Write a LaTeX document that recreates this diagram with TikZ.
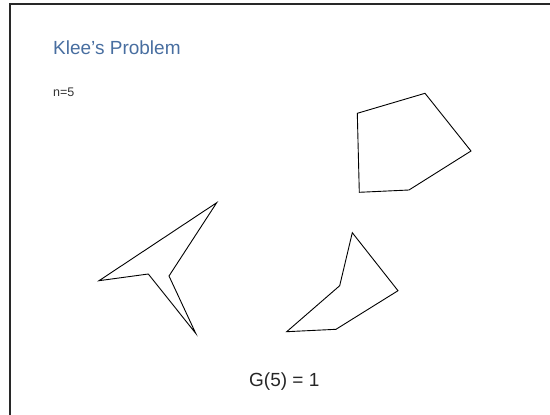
\documentclass[tikz,border=0pt]{standalone}
\usepackage{fontspec}
\setmainfont{Liberation Sans}
\definecolor{titleblue}{RGB}{72,110,160}
\definecolor{framegray}{RGB}{40,40,40}
\begin{document}
\begin{tikzpicture}[x=1pt,y=-1pt,
  polyline/.style={draw=black,line width=0.9pt,line join=miter},
  framel/.style={draw=framegray,line width=1.4pt}]
\useasboundingbox (0,0) rectangle (550,415);
\coordinate (ftl) at (10,4);
\coordinate (ftr) at (550,4);
\coordinate (fbl) at (10,415);
\draw[framel] (ftr) -- (ftl) -- (fbl);
\node[anchor=base west,inner sep=0pt,text=titleblue,font=\fontsize{19}{21}\selectfont] (title) at (53,54.5) {Klee’s Problem};
\node[anchor=base west,inner sep=0pt,text=black!80,font=\fontsize{12.5}{14}\selectfont] (n) at (53,96.7) {n=5};
\node[anchor=base west,inner sep=0pt,text=black!85,font=\fontsize{19}{21}\selectfont] (g) at (249,386.7) {G(5) = 1};
% pentagon
\draw[polyline] (357.3,113.3) -- (425,93.3) -- (471,151) -- (409,190) -- (359.3,192.3) -- cycle;
% star
\draw[polyline] (216.7,202.7) -- (169,276) -- (195.7,333.3) -- (148.3,274) -- (99,280.7) -- cycle;
% concave pentagon
\draw[polyline] (352.3,232.7) -- (398,290.7) -- (336,329.3) -- (286.7,331.7) -- (339.7,285.7) -- cycle;
\end{tikzpicture}
\end{document}
